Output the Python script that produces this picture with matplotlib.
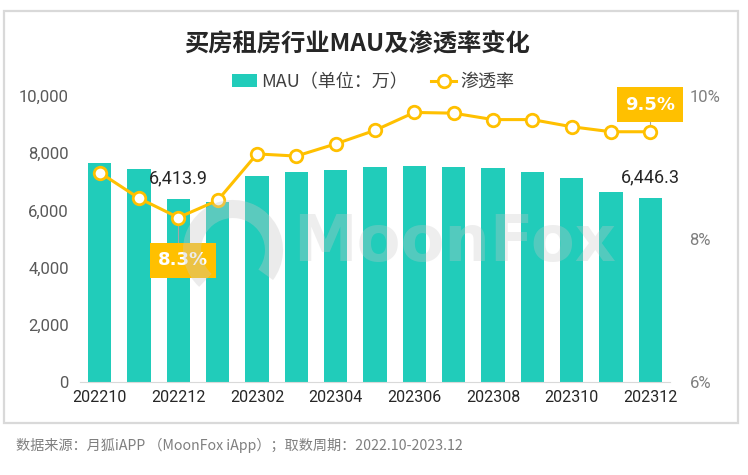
import matplotlib
matplotlib.use('agg')
import matplotlib.pyplot as plt
from matplotlib import font_manager
from matplotlib.patches import Rectangle, Arc
import numpy as np

months = ['202210', '202211', '202212', '202301', '202302', '202303', '202304',
          '202305', '202306', '202307', '202308', '202309', '202310', '202311', '202312']
mau = [7650, 7450, 6413.9, 6290, 7200, 7340, 7410, 7520, 7550, 7520, 7480,
       7340, 7130, 6640, 6446.3]
rate = [8.93, 8.57, 8.3, 8.54, 9.19, 9.16, 9.33, 9.52, 9.77, 9.76, 9.67,
        9.67, 9.57, 9.5, 9.5]
left_ticks = [0, 2000, 4000, 6000, 8000, 10000]
right_ticks = [6, 8, 10]

TEAL = '#21CCBA'
GOLD = '#FFC000'
CJK = ['Noto Sans CJK SC', 'DejaVu Sans']


def pick_font(names):
    for n in names:
        try:
            font_manager.findfont(n, fallback_to_default=False)
            return n
        except Exception:
            pass
    return 'DejaVu Sans'


NUM = pick_font(['Liberation Sans Narrow', 'Roboto', 'Liberation Sans'])
plt.rcParams['font.family'] = CJK

fig = plt.figure(figsize=(7.48, 4.75), dpi=100)
W, H = 748, 475

# outer border
fig.patches.append(Rectangle((4 / W, 1 - 423 / H), 734 / W, 412 / H, transform=fig.transFigure,
                             fill=False, edgecolor='#D9D9D9', linewidth=1.6))

ax = fig.add_axes([80 / W, 1 - 382 / H, 590 / W, 286 / H])
x = np.arange(len(months))
ax.bar(x, mau, width=0.6, color=TEAL, zorder=2, label='MAU（单位：万）')
ax.set_xlim(-0.5, len(months) - 0.5)
ax.set_ylim(0, 10000)
ax.set_yticks(left_ticks)
ax.set_yticklabels([f'{v:,}' for v in left_ticks], fontsize=12, color='#595959', family=NUM)
ax.set_xticks(x[::2])
ax.set_xticklabels(months[::2], fontsize=11.5, color='#262626', family=NUM)
ax.tick_params(length=0, pad=8)
ax.tick_params(axis='x', pad=6)
for s in ['top', 'right', 'left']:
    ax.spines[s].set_visible(False)
ax.spines['bottom'].set_color('#D9D9D9')

for i in (2, 14):
    ax.text(x[i], mau[i] + 700, f'{mau[i]:,.1f}', ha='center', va='center',
            fontsize=13, color='#262626', family=NUM, zorder=6)

ax2 = ax.twinx()
ax2.plot(x, rate, color=GOLD, linewidth=2.2, marker='o', markersize=9,
         markerfacecolor='white', markeredgecolor=GOLD, markeredgewidth=2, zorder=5,
         label='渗透率')
ax2.set_ylim(6, 10)
ax2.set_yticks(right_ticks)
ax2.set_yticklabels([f'{v}%' for v in right_ticks], fontsize=12, color='#7F7F7F', family=NUM)
ax2.tick_params(length=0, pad=14)
for s in ['top', 'right', 'left', 'bottom']:
    ax2.spines[s].set_visible(False)

# callout boxes
for i, dy, dx in ((2, -0.6, 0.12), (14, 0.38, 0.0)):
    ty = rate[i] + dy
    ax2.plot([x[i], x[i]], [rate[i], ty], color='#A6A6A6', linewidth=0.8, zorder=4)
    ax2.text(x[i] + dx, ty, f'{rate[i]:.1f}%', ha='center', va='center',
             fontsize=13, fontweight='bold', color='white', family='DejaVu Sans', zorder=7,
             bbox=dict(boxstyle='square,pad=0.45', facecolor=GOLD, edgecolor='none'))

# watermark
fig.text(455 / W, 1 - 243 / H, 'MoonFox', ha='center', va='center', fontsize=46,
         fontweight='bold', color='#C8C8C8', alpha=0.3, family='DejaVu Sans', zorder=10)
fig.patches.append(Arc((233 / W, 1 - 250 / H), 82 / W, 82 / H, theta1=-50, theta2=240,
                       transform=fig.transFigure, color='#C8C8C8', alpha=0.35, linewidth=13))

fig.text(357 / W, 1 - 43 / H, '买房租房行业MAU及渗透率变化', ha='center', va='center',
         fontsize=17.5, fontweight='bold', color='#262626')

h1, l1 = ax.get_legend_handles_labels()
h2, l2 = ax2.get_legend_handles_labels()
fig.legend(h1 + h2, l1 + l2, loc='center', bbox_to_anchor=(373 / W, 1 - 82 / H), ncol=2,
           frameon=False, fontsize=13, handlelength=1.4, columnspacing=1.3, handletextpad=0.2,
           labelcolor='#404040')

fig.text(16 / W, 1 - 445 / H, '数据来源：月狐iAPP （MoonFox iApp）；取数周期：2022.10-2023.12',
         ha='left', va='center', fontsize=10.2, color='#7F7F7F', style='italic')

fig.savefig('out.png', dpi=100)
